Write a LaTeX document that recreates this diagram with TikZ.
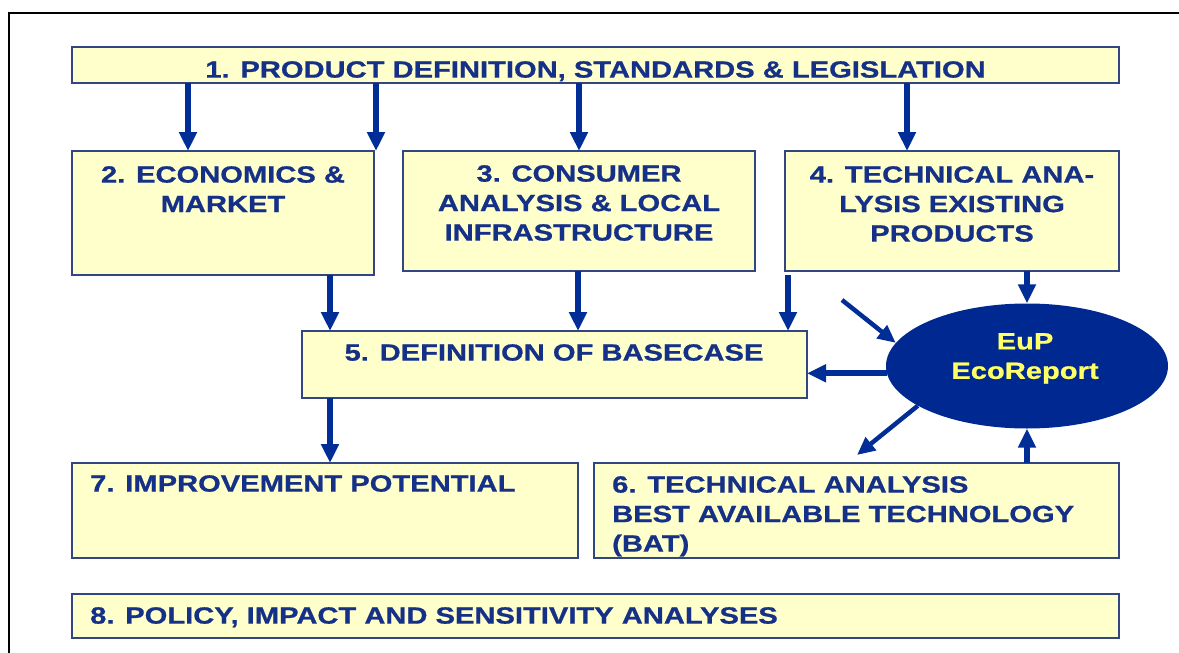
\documentclass[tikz,border=0pt]{standalone}
\usepackage{fontspec}
\setmainfont{Liberation Sans}[FakeStretch=1.24,FakeBold=0.8]
\usetikzlibrary{arrows.meta,shapes.geometric}
\definecolor{boxfill}{RGB}{255,255,204}
\definecolor{boxline}{RGB}{50,70,130}
\definecolor{txt}{RGB}{20,48,135}
\definecolor{arrc}{RGB}{0,45,150}
\definecolor{ecofill}{RGB}{0,40,145}
\definecolor{ecotxt}{RGB}{255,255,102}
\begin{document}
\begin{tikzpicture}[x=1pt,y=-1pt,
  box/.style={draw=boxline,line width=1.2pt,fill=boxfill,anchor=north west,inner sep=0pt,outer sep=0pt},
  lbl/.style={text=txt,font=\fontsize{23.5}{29.5}\selectfont\bfseries,inner sep=0pt,align=center},
  arr/.style={draw=arrc,line width=6pt,-{Triangle[width=17pt,length=19pt]}},
  darr/.style={draw=arrc,line width=4.5pt,-{Triangle[width=16pt,length=18pt]}}]
\useasboundingbox[fill=white] (0,0) rectangle (1179,653);
% frame
\draw[line width=2pt] (9,653) -- (9,13) -- (1179,13);
% boxes
\node[box,minimum width=1047pt,minimum height=36pt] (b1) at (72,47) {};
\node[box,minimum width=302pt,minimum height=124pt] (b2) at (72,151) {};
\node[box,minimum width=352pt,minimum height=120pt] (b3) at (403,151) {};
\node[box,minimum width=334pt,minimum height=120pt] (b4) at (785,151) {};
\node[box,minimum width=505pt,minimum height=67pt] (b5) at (302,331) {};
\node[box,minimum width=506pt,minimum height=95pt] (b7) at (72,463) {};
\node[box,minimum width=525pt,minimum height=95pt] (b6) at (594,463) {};
\node[box,minimum width=1047pt,minimum height=44pt] (b8) at (72,594) {};
\node[ellipse,fill=ecofill,minimum width=282pt,minimum height=125pt,inner sep=0pt] (eco) at (1027,366) {};
% texts
\node[lbl,anchor=north] (t1) at (595.5,61) {1. PRODUCT DEFINITION, STANDARDS \& LEGISLATION};
\node[lbl,anchor=north] (t2) at (223,166) {2. ECONOMICS \&\\MARKET};
\node[lbl,anchor=north] (t3) at (579,165) {3. CONSUMER\\ANALYSIS \& LOCAL\\INFRASTRUCTURE};
\node[lbl,anchor=north] (t4) at (952,166) {4. TECHNICAL ANA-\\LYSIS EXISTING\\PRODUCTS};
\node[lbl,anchor=north] (t5) at (554,344) {5. DEFINITION OF BASECASE};
\node[lbl,anchor=north west] (t7) at (90,475) {7. IMPROVEMENT POTENTIAL};
\node[lbl,anchor=north west,align=left] (t6) at (612,476) {6. TECHNICAL ANALYSIS\\BEST AVAILABLE TECHNOLOGY\\(BAT)};
\node[lbl,anchor=north west] (t8) at (90,607) {8. POLICY, IMPACT AND SENSITIVITY ANALYSES};
\node[lbl,anchor=north,text=ecotxt] (teco) at (1025,333) {EuP\\EcoReport};
% arrow positions
\coordinate (x188) at (188,0);
\coordinate (x376) at (376,0);
\coordinate (x907) at (907,0);
\coordinate (x330) at (330,0);
\coordinate (x578) at (578,0);
\coordinate (x788) at (788,0);
\coordinate (d1) at (842,300);
\coordinate (d2) at (857,455);
% arrows
\draw[arr] (x188 |- b1.south) -- (x188 |- b2.north);
\draw[arr] (x376 |- b1.south) -- (x376 |- b2.north);
\draw[arr] (b3.north |- b1.south) -- (b3.north);
\draw[arr] (x907 |- b1.south) -- (x907 |- b4.north);
\draw[arr] (x330 |- b2.south) -- (x330 |- b5.north);
\draw[arr] (x578 |- b3.south) -- (x578 |- b5.north);
\draw[arr,shorten <=4pt] (x788 |- b4.south) -- (x788 |- b5.north);
\draw[arr] (eco.north |- b4.south) -- (eco.north);
\draw[darr] (d1) -- (eco.170);
\draw[arr] (eco.183) -- (eco.183 -| b5.east);
\draw[darr] (eco.200) -- (d2);
\draw[arr] (eco.south |- b6.north) -- (eco.south);
\draw[arr] (x330 |- b5.south) -- (x330 |- b7.north);
\end{tikzpicture}
\end{document}
